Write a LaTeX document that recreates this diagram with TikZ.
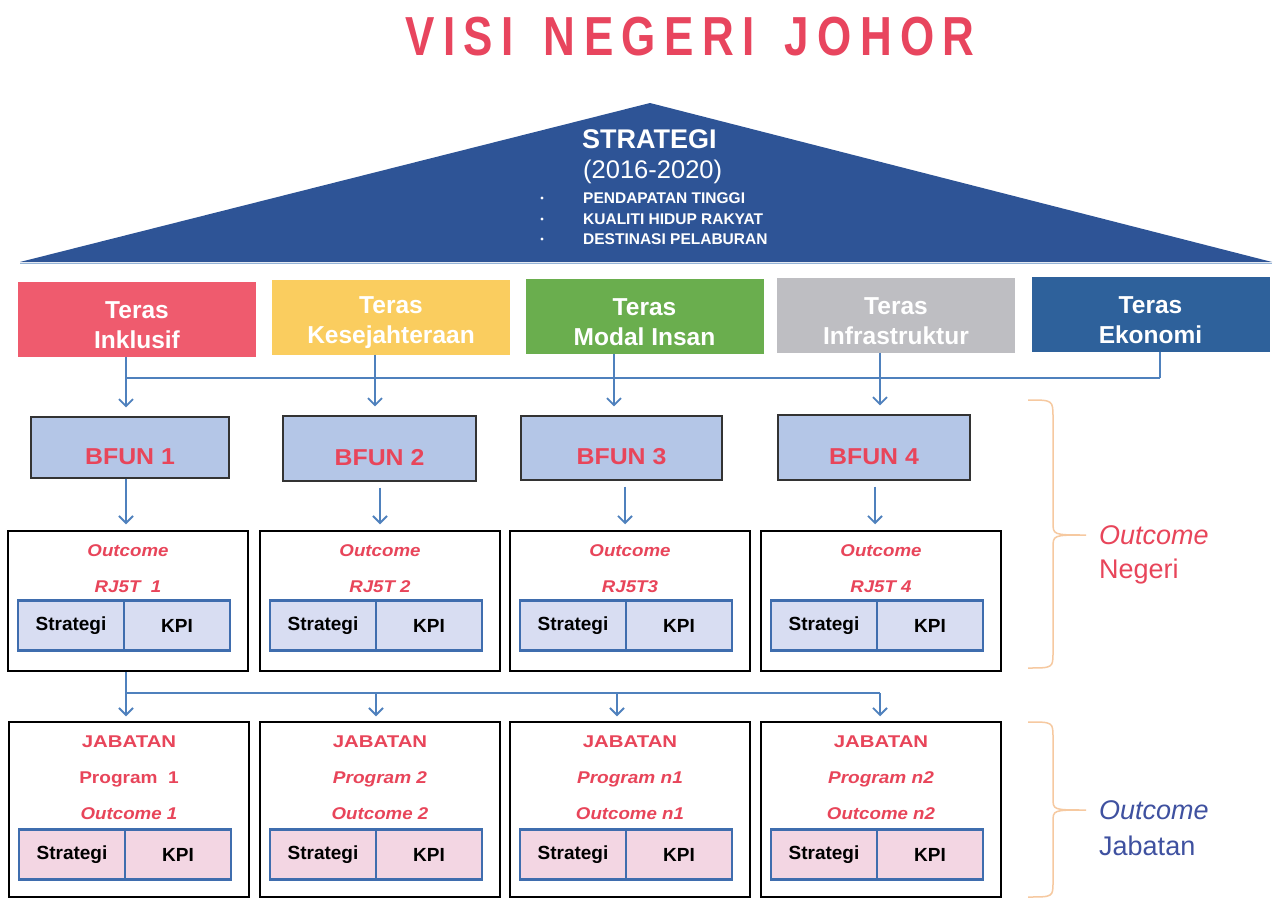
\documentclass[tikz,border=0pt]{standalone}
\usepackage{fontspec}
\usepackage{graphicx}
\setmainfont{Liberation Sans}
\newfontfamily\titlefont[LetterSpace=19]{Liberation Sans}
\usetikzlibrary{arrows.meta}
\newcommand\wtxt[2]{\scalebox{#1}[1]{#2}}
\definecolor{titlered}{HTML}{E8455E}
\definecolor{tricol}{HTML}{2E5496}
\definecolor{tred}{HTML}{EF5B6E}
\definecolor{tyellow}{HTML}{FACD5F}
\definecolor{tgreen}{HTML}{6AAE4E}
\definecolor{tgrey}{HTML}{BEBEC2}
\definecolor{tblue}{HTML}{2E619B}
\definecolor{connblue}{HTML}{4F81BD}
\definecolor{bfunfill}{HTML}{B4C6E7}
\definecolor{txtred}{HTML}{E8455A}
\definecolor{cellblue}{HTML}{3F6DAE}
\definecolor{lav}{HTML}{D8DDF2}
\definecolor{pinkc}{HTML}{F3D6E3}
\definecolor{braceor}{HTML}{F6C9A0}
\definecolor{jabblue}{HTML}{3F51A0}
\begin{document}
\begin{tikzpicture}[x=1pt,y=-1pt,
  teras/.style={minimum width=238pt, minimum height=75pt, inner sep=0pt},
  terastxt/.style={text=white, align=center, inner sep=0pt, yshift=-6pt, font=\fontsize{24.5}{30}\selectfont\bfseries},
  bfun/.style={draw=black!80, line width=1.2pt, fill=bfunfill, inner sep=0pt},
  bfuntxt/.style={text=txtred, inner sep=0pt, yshift=-9pt, font=\fontsize{23}{23}\selectfont\bfseries},
  obox/.style={draw=black, line width=1.5pt, fill=white, minimum width=240pt, minimum height=140pt, inner sep=0pt},
  jbox/.style={draw=black, line width=1.5pt, fill=white, minimum width=240pt, minimum height=175pt, inner sep=0pt},
  cell/.style={draw=cellblue, line width=2.6pt, minimum width=106pt, minimum height=50pt, inner sep=0pt, font=\fontsize{19}{19}\selectfont\bfseries},
  redtxt/.style={text=txtred, inner sep=0pt, font=\fontsize{17}{17}\selectfont\bfseries\itshape},
  tritxt/.style={text=white, anchor=west, inner sep=0pt},
  conn/.style={draw=connblue, line width=1.8pt},
  arr/.style={conn, -{Straight Barb[length=7pt,width=14pt,line width=1.8pt]}},
  bracestyle/.style={draw=braceor, line width=1.5pt}
]
\useasboundingbox[fill=white] (0,0) rectangle (1275,899);

% title
\node[text=titlered, inner sep=0pt] (title) at (690,36.5) {\wtxt{0.8}{\fontsize{55}{55}\titlefont\bfseries VISI\hspace{12pt} NEGERI\hspace{12pt} JOHOR}};

% roof
\fill[tricol] (650,103) -- (1272,262) -- (20,262) -- cycle;
\draw[connblue!60, line width=1pt] (20,263) -- (1272,263);
\node[tritxt] (s1) at (582,139) {\fontsize{27}{27}\selectfont\bfseries STRATEGI};
\node[tritxt] (s2) at (583,172) {\fontsize{25.5}{25.5}\selectfont (2016-2020)};
\node[tritxt] (s3) at (583,198) {\fontsize{15.5}{15.5}\selectfont\bfseries PENDAPATAN TINGGI};
\node[tritxt] (s4) at (583,219) {\fontsize{15.5}{15.5}\selectfont\bfseries KUALITI HIDUP RAKYAT};
\node[tritxt] (s5) at (583,239) {\fontsize{15.5}{15.5}\selectfont\bfseries DESTINASI PELABURAN};
\foreach \yy in {198,219,239}
  \fill[white] (542,\yy) circle (1.7pt);

% teras
\node[teras, fill=tred]    (t1) at (137,319)     {};
\node[teras, fill=tyellow] (t2) at (391,317)     {};
\node[teras, fill=tgreen]  (t3) at (644.5,316.5) {};
\node[teras, fill=tgrey]   (t4) at (896,315)     {};
\node[teras, fill=tblue]   (t5) at (1150.5,314)  {};
\node[terastxt] (tt1) at (t1) {Teras\\Inklusif};
\node[terastxt] (tt2) at (t2) {Teras\\Kesejahteraan};
\node[terastxt] (tt3) at (t3) {Teras\\Modal Insan};
\node[terastxt] (tt4) at (t4) {Teras\\Infrastruktur};
\node[terastxt] (tt5) at (t5) {Teras\\Ekonomi};

% BFUN
\node[bfun, minimum width=198pt, minimum height=61pt] (b1) at (130,447.5) {};
\node[bfun, minimum width=193pt, minimum height=65pt] (b2) at (379.5,448.5) {};
\node[bfun, minimum width=201pt, minimum height=64pt] (b3) at (621.5,448) {};
\node[bfun, minimum width=192pt, minimum height=65pt] (b4) at (874,447.5) {};
\foreach \i in {1,2,3,4}
  \node[bfuntxt] (bt\i) at (b\i) {\wtxt{1.08}{BFUN \i}};

% top bus
\coordinate (bus1) at (126,378);
\coordinate (bus2) at (375,378);
\coordinate (bus3) at (614,378);
\coordinate (bus4) at (880,378);
\coordinate (bus5) at (1160,378);
\draw[conn] (bus1) -- (bus5);
\draw[conn] (t5.south -| bus5) -- (bus5);
\foreach \i in {1,2,3,4}
  \draw[arr, shorten >=9pt] (t\i.south -| bus\i) -- (b\i.north -| bus\i);

% outcome negeri boxes
\foreach \i/\cx/\lab in {1/128/RJ5T\ \ 1, 2/380/RJ5T 2, 3/630/RJ5T3, 4/881/RJ5T 4}{
  \node[obox] (o\i) at (\cx,601) {};
  \node[redtxt] (oa\i) at (\cx,551) {\wtxt{1.1}{Outcome}};
  \node[redtxt] (ob\i) at (\cx,587) {\wtxt{1.1}{\lab}};
  \node[cell, fill=lav] (os\i) at (\cx-57,625.5) {Strategi};
  \node[cell, fill=lav] (ok\i) at (\cx+49,625.5) {KPI};
}
\coordinate (ba1) at (126,0);
\coordinate (ba3) at (625,0);
\coordinate (ba4) at (875,0);
\draw[arr, shorten >=6pt] (b1.south -| ba1) -- (o1.north -| ba1);
\draw[arr, shorten >=6pt, shorten <=6pt] (b2.south -| o2.north) -- (o2.north);
\draw[arr, shorten >=6pt, shorten <=6pt] (b3.south -| ba3) -- (o3.north -| ba3);
\draw[arr, shorten >=6pt, shorten <=6pt] (b4.south -| ba4) -- (o4.north -| ba4);

% jabatan boxes
\foreach \i/\cx/\prog/\out in {1/129/{\upshape Program\ \ 1}/Outcome 1, 2/380/Program 2/Outcome 2, 3/630/Program n1/Outcome n1, 4/881/Program n2/Outcome n2}{
  \node[jbox] (j\i) at (\cx,809.5) {};
  \node[redtxt, font=\fontsize{17}{17}\selectfont\bfseries] (ja\i) at (\cx,742) {\wtxt{1.2}{JABATAN}};
  \node[redtxt] (jb\i) at (\cx,779) {\wtxt{1.12}{\prog}};
  \node[redtxt] (jc\i) at (\cx,814) {\wtxt{1.1}{\out}};
  \node[cell, fill=pinkc] (js\i) at (\cx-57,854.5) {Strategi};
  \node[cell, fill=pinkc] (jk\i) at (\cx+49,854.5) {KPI};
}

% bottom bus
\coordinate (lb1) at (126,693);
\coordinate (lb2) at (376,693);
\coordinate (lb3) at (617,693);
\coordinate (lb4) at (880,693);
\draw[conn] (o1.south -| lb1) -- (lb1) -- (lb4);
\foreach \i in {1,2,3,4}
  \draw[arr, shorten >=5pt] (lb\i) -- (j\i.north -| lb\i);

% braces
\draw[bracestyle] (1028,400) .. controls (1053,400) and (1053,400) .. (1053,418) -- (1053,522)
  .. controls (1053,535) and (1053,535) .. (1086,535)
  .. controls (1053,535) and (1053,535) .. (1053,548) -- (1053,652)
  .. controls (1053,668) and (1053,668) .. (1028,668);
\draw[bracestyle] (1028,722) .. controls (1053,722) and (1053,722) .. (1053,738) -- (1053,798)
  .. controls (1053,810) and (1053,810) .. (1086,810)
  .. controls (1053,810) and (1053,810) .. (1053,822) -- (1053,882)
  .. controls (1053,897) and (1053,897) .. (1028,897);

\node[anchor=west, inner sep=0pt, text=txtred, font=\fontsize{27}{27}\selectfont\itshape] (on1) at (1099,535) {Outcome};
\node[anchor=west, inner sep=0pt, text=txtred, font=\fontsize{27}{27}\selectfont] (on2) at (1099,572) {Negeri};
\node[anchor=west, inner sep=0pt, text=jabblue, font=\fontsize{27}{27}\selectfont\itshape] (oj1) at (1099,810) {Outcome};
\node[anchor=west, inner sep=0pt, text=jabblue, font=\fontsize{27}{27}\selectfont] (oj2) at (1099,846) {Jabatan};
\end{tikzpicture}
\end{document}
